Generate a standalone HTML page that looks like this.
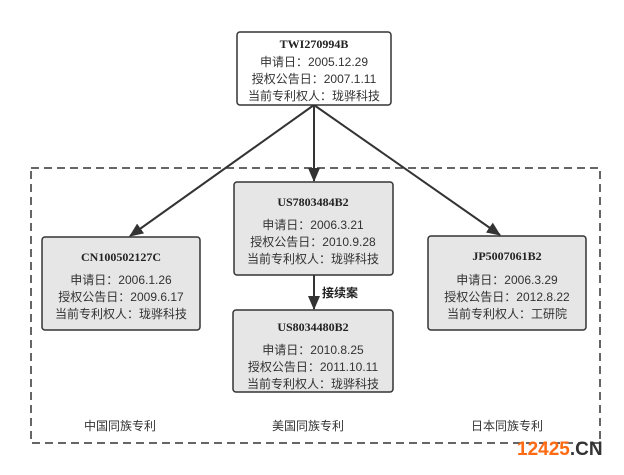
<!DOCTYPE html>
<html><head><meta charset="utf-8"><style>
body{margin:0;background:#fff;}
svg text{font-family:"Liberation Sans","Noto Sans CJK SC",sans-serif;}
.t{font-family:"Liberation Serif","Noto Serif CJK SC",serif;font-weight:bold;font-size:12px;fill:#222;}
.l{font-size:12px;fill:#333;}
</style></head><body>
<svg width="624" height="470" xmlns="http://www.w3.org/2000/svg">
<defs><marker id="a" markerWidth="14" markerHeight="12" refX="13" refY="6" orient="auto" markerUnits="userSpaceOnUse"><path d="M0,0 L14,6 L0,12 Z" fill="#333"/></marker></defs>
<rect x="31" y="168" width="569" height="275" fill="none" stroke="#333" stroke-width="1.5" stroke-dasharray="8,5"/>
<g stroke="#333" stroke-width="2" fill="none">
<line x1="314" y1="105" x2="130" y2="236" marker-end="url(#a)"/>
<line x1="314" y1="105" x2="314" y2="181" marker-end="url(#a)"/>
<line x1="314" y1="105" x2="500" y2="235" marker-end="url(#a)"/>
<line x1="314" y1="275" x2="314" y2="309" marker-end="url(#a)"/>
</g>
<g stroke="#333" stroke-width="1.5">
<rect x="237" y="32" width="154" height="73" rx="3" fill="#fff"/>
<rect x="234" y="182" width="159" height="93" rx="3" fill="#e6e6e6"/>
<rect x="233" y="310" width="160" height="82" rx="3" fill="#e6e6e6"/>
<rect x="42" y="237" width="158" height="93" rx="3" fill="#e6e6e6"/>
<rect x="428" y="236" width="158" height="94" rx="3" fill="#e6e6e6"/>
</g>
<g text-anchor="middle">
<text class="t" x="314" y="48">TWI270994B</text>
<text class="l" x="314" y="66">申请日：2005.12.29</text>
<text class="l" x="314" y="83">授权公告日：2007.1.11</text>
<text class="l" x="314" y="100">当前专利权人：珑骅科技</text>

<text class="t" x="313" y="206">US7803484B2</text>
<text class="l" x="313" y="229">申请日：2006.3.21</text>
<text class="l" x="313" y="246">授权公告日：2010.9.28</text>
<text class="l" x="313" y="263">当前专利权人：珑骅科技</text>

<text class="t" x="313" y="331">US8034480B2</text>
<text class="l" x="313" y="354">申请日：2010.8.25</text>
<text class="l" x="313" y="371">授权公告日：2011.10.11</text>
<text class="l" x="313" y="388">当前专利权人：珑骅科技</text>

<text class="t" x="121" y="261">CN100502127C</text>
<text class="l" x="121" y="284">申请日：2006.1.26</text>
<text class="l" x="121" y="301">授权公告日：2009.6.17</text>
<text class="l" x="121" y="318">当前专利权人：珑骅科技</text>

<text class="t" x="507" y="260">JP5007061B2</text>
<text class="l" x="507" y="284">申请日：2006.3.29</text>
<text class="l" x="507" y="301">授权公告日：2012.8.22</text>
<text class="l" x="507" y="318">当前专利权人：工研院</text>

<text class="l" x="120" y="430">中国同族专利</text>
<text class="l" x="308" y="430">美国同族专利</text>
<text class="l" x="507" y="430">日本同族专利</text>
</g>
<text x="322" y="297" font-size="12" font-weight="bold" fill="#222">接续案</text>
<text x="517" y="455" font-size="19" font-weight="bold" fill="#ff6a13">12425<tspan fill="#333">.CN</tspan></text>
</svg>
</body></html>
